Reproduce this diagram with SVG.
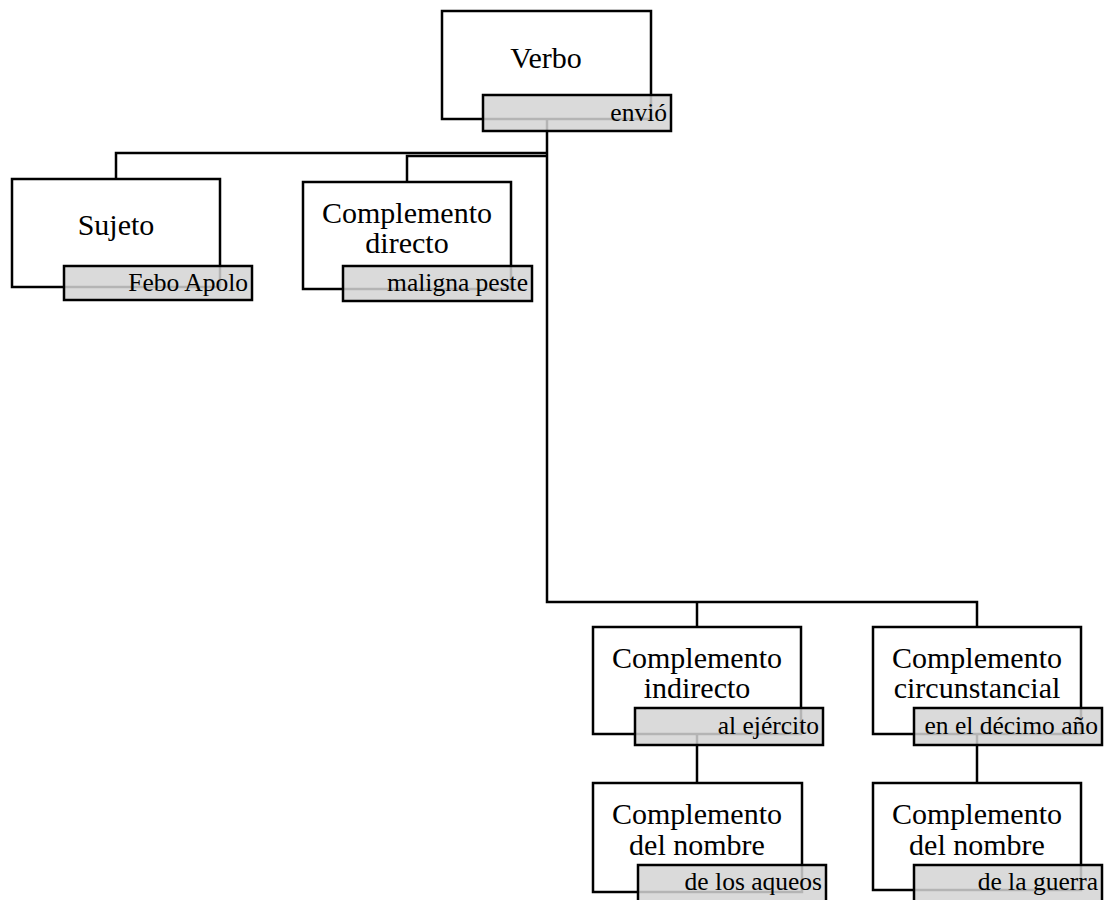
<svg xmlns="http://www.w3.org/2000/svg" width="1106" height="900" viewBox="0 0 1106 900">
<style>
.ln{fill:none;stroke:#000;stroke-width:2.5}
.box{fill:#fff;stroke:#000;stroke-width:2.5}
.lab{fill:#d3d3d3;fill-opacity:0.85;stroke:#000;stroke-width:2.5}
.t{font-family:"Liberation Serif","Times New Roman",serif;font-size:30px;fill:#000;text-anchor:middle}
.l{font-family:"Liberation Serif","Times New Roman",serif;font-size:25.5px;fill:#000;text-anchor:end}
</style>
<rect width="1106" height="900" fill="#fff"/>
<g id="connectors">
<path class="ln" d="M547,119 V602 H977 V627"/>
<path class="ln" d="M547,153 H116 V179"/>
<path class="ln" d="M547,156 H407 V182"/>
<path class="ln" d="M697,602 V627"/>
<path class="ln" d="M697,734 V783"/>
<path class="ln" d="M977,734 V783"/>
</g>
<g id="verbo">
<rect class="box" x="442" y="11" width="209" height="108"/>
<text class="t" x="546" y="68">Verbo</text>
<rect class="lab" x="483" y="95" width="188" height="36"/>
<text class="l" x="667" y="121">envió</text>
</g>
<g id="sujeto">
<rect class="box" x="12" y="179" width="208" height="108"/>
<text class="t" x="116" y="235">Sujeto</text>
<rect class="lab" x="64" y="266" width="188" height="34"/>
<text class="l" x="248" y="291">Febo Apolo</text>
</g>
<g id="cdirecto">
<rect class="box" x="303" y="182" width="208" height="107"/>
<text class="t" x="407" y="223">Complemento</text>
<text class="t" x="407" y="253">directo</text>
<rect class="lab" x="343" y="266" width="189" height="35"/>
<text class="l" x="528" y="291">maligna peste</text>
</g>
<g id="cindirecto">
<rect class="box" x="593" y="627" width="208" height="107"/>
<text class="t" x="697" y="668">Complemento</text>
<text class="t" x="697" y="698">indirecto</text>
<rect class="lab" x="635" y="708" width="188" height="37"/>
<text class="l" x="819" y="734">al ejército</text>
</g>
<g id="ccircunstancial">
<rect class="box" x="873" y="627" width="208" height="107"/>
<text class="t" x="977" y="668">Complemento</text>
<text class="t" x="977" y="698">circunstancial</text>
<rect class="lab" x="914" y="708" width="188" height="37"/>
<text class="l" x="1098" y="734">en el décimo año</text>
</g>
<g id="cnombre1">
<rect class="box" x="593" y="783" width="209" height="109"/>
<text class="t" x="697" y="824">Complemento</text>
<text class="t" x="697" y="855">del nombre</text>
<rect class="lab" x="638" y="865" width="188" height="40"/>
<text class="l" x="822" y="890">de los aqueos</text>
</g>
<g id="cnombre2">
<rect class="box" x="873" y="783" width="208" height="107"/>
<text class="t" x="977" y="824">Complemento</text>
<text class="t" x="977" y="855">del nombre</text>
<rect class="lab" x="914" y="865" width="188" height="40"/>
<text class="l" x="1098" y="890">de la guerra</text>
</g>
</svg>
